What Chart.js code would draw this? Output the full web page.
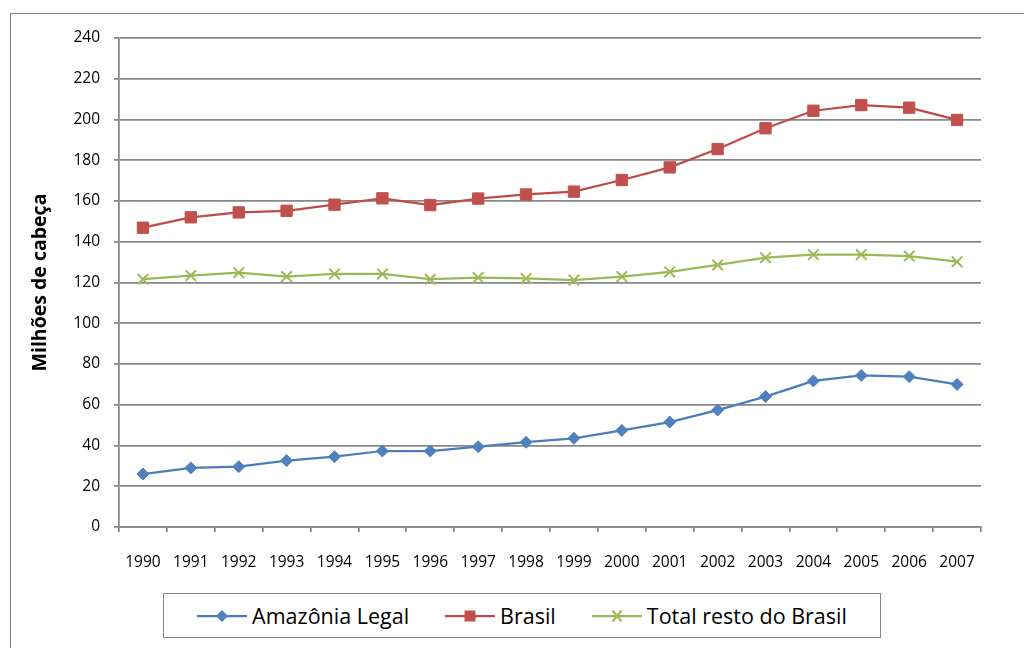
<!DOCTYPE html>
<html>
<head>
<meta charset="utf-8">
<script src="https://cdn.jsdelivr.net/npm/chart.js@4"></script>
<style>
  html, body { margin: 0; padding: 0; background: #fff; }
  #wrap { position: relative; width: 1024px; height: 648px; overflow: hidden; }
  #legend {
    position: absolute; left: 163px; top: 593px; width: 718px; height: 45px;
    box-sizing: border-box; border: 1px solid #868686; background: #fff;
    display: flex; align-items: center; justify-content: center; padding-left: 0px;
    font-family: "Open Sans", sans-serif; font-size: 21.5px; color: #000;
  }
  .item { display: flex; align-items: center; margin-right: 36px; }
  .item:last-child { margin-right: 0; }
  .item svg { margin-right: 5px; }
</style>
</head>
<body>
<div id="wrap">
  <canvas id="c" width="1024" height="648"></canvas>
  <div id="legend"></div>
</div>
<script>
const years = ['1990','1991','1992','1993','1994','1995','1996','1997','1998','1999','2000','2001','2002','2003','2004','2005','2006','2007'];
const amazoniaLegal = [26, 29, 29.6, 32.6, 34.5, 37.3, 37.3, 39.4, 41.6, 43.5, 47.4, 51.5, 57.4, 64, 71.7, 74.4, 73.8, 70];
const brasil = [146.9, 152, 154.4, 155.2, 158.2, 161.3, 158, 161.2, 163.2, 164.6, 170.3, 176.5, 185.5, 195.7, 204.3, 207.1, 205.8, 199.8];
const totalResto = [121.6, 123.4, 124.8, 122.9, 124.2, 124.2, 121.6, 122.4, 122, 121.2, 122.9, 125.2, 128.6, 132.2, 133.7, 133.7, 133, 130.2];
const seriesNames = ['Amazônia Legal', 'Brasil', 'Total resto do Brasil'];
const yTitle = 'Milhões de cabeça';

const gridColor = '#878787';
const tickFont = { family: '"Open Sans", sans-serif', size: 15.5 };

const frame = {
  id: 'frame',
  beforeDraw(chart) {
    const ctx = chart.ctx;
    ctx.save();
    ctx.fillStyle = '#fff';
    ctx.fillRect(0, 0, chart.width, chart.height);
    ctx.strokeStyle = '#868686';
    ctx.lineWidth = 1;
    ctx.strokeRect(10.5, 13.5, 1100, 1000);
    ctx.restore();
  }
};

const chart = new Chart(document.getElementById('c'), {
  type: 'line',
  data: {
    labels: years,
    datasets: [
      { label: seriesNames[0], data: amazoniaLegal, borderColor: '#4A7EBB', backgroundColor: '#4F81BD',
        borderWidth: 2.25, pointStyle: 'rectRot', pointRadius: 6, pointBorderWidth: 1, pointBorderColor: '#4F81BD', tension: 0 },
      { label: seriesNames[1], data: brasil, borderColor: '#BE4B48', backgroundColor: '#C0504D',
        borderWidth: 2.25, pointStyle: 'rect', pointRadius: 8, pointBorderWidth: 1, pointBorderColor: '#C0504D', tension: 0 },
      { label: seriesNames[2], data: totalResto, borderColor: '#98B954', backgroundColor: '#9BBB59',
        borderWidth: 2.25, pointStyle: 'crossRot', pointRadius: 7.5, pointBorderWidth: 2, pointBorderColor: '#9BBB59', tension: 0 }
    ]
  },
  options: {
    responsive: false,
    animation: false,
    layout: { padding: { left: 0, top: 38, right: 43, bottom: 0 } },
    plugins: { legend: { display: false }, tooltip: { enabled: false } },
    scales: {
      x: {
        offset: true,
        grid: { display: true, drawOnChartArea: false, drawTicks: true, tickLength: 5, color: gridColor, lineWidth: 1.75, offset: true },
        border: { display: true, color: gridColor, width: 1.75 },
        ticks: { color: '#000', font: tickFont, padding: 21, maxRotation: 0, autoSkip: false },
        afterFit(scale) { scale.height = 121; }
      },
      y: {
        min: 0, max: 240,
        grid: { color: gridColor, lineWidth: 1.75, drawTicks: true, tickLength: 5 },
        border: { display: true, color: gridColor, width: 1.75 },
        ticks: { stepSize: 20, color: '#000', font: tickFont, padding: 14 },
        title: { display: true, text: yTitle, color: '#000',
          font: { family: '"Open Sans", sans-serif', size: 19.5, weight: 'bold' },
          padding: { top: 29, bottom: 0 } },
        afterFit(scale) { scale.width = 119; }
      }
    }
  },
  plugins: [frame]
});

// HTML legend built from the datasets
function markerSvg(ds) {
  const c = ds.backgroundColor, l = ds.borderColor;
  let m = '';
  if (ds.pointStyle === 'rectRot') m = `<polygon points="25,4 31,10 25,16 19,10" fill="${c}"/>`;
  else if (ds.pointStyle === 'rect') m = `<rect x="19.5" y="4.5" width="11" height="11" fill="${c}"/>`;
  else m = `<path d="M20.5,4.5 L29.5,15.5 M29.5,4.5 L20.5,15.5" stroke="${c}" stroke-width="2" fill="none"/>`;
  return `<svg width="50" height="20" viewBox="0 0 50 20"><line x1="0" y1="10" x2="50" y2="10" stroke="${l}" stroke-width="2.25"/>${m}</svg>`;
}
const legendEl = document.getElementById('legend');
chart.data.datasets.forEach(ds => {
  const it = document.createElement('div');
  it.className = 'item';
  it.innerHTML = markerSvg(ds);
  const t = document.createElement('span');
  t.textContent = ds.label;
  it.appendChild(t);
  legendEl.appendChild(it);
});
</script>
</body>
</html>
